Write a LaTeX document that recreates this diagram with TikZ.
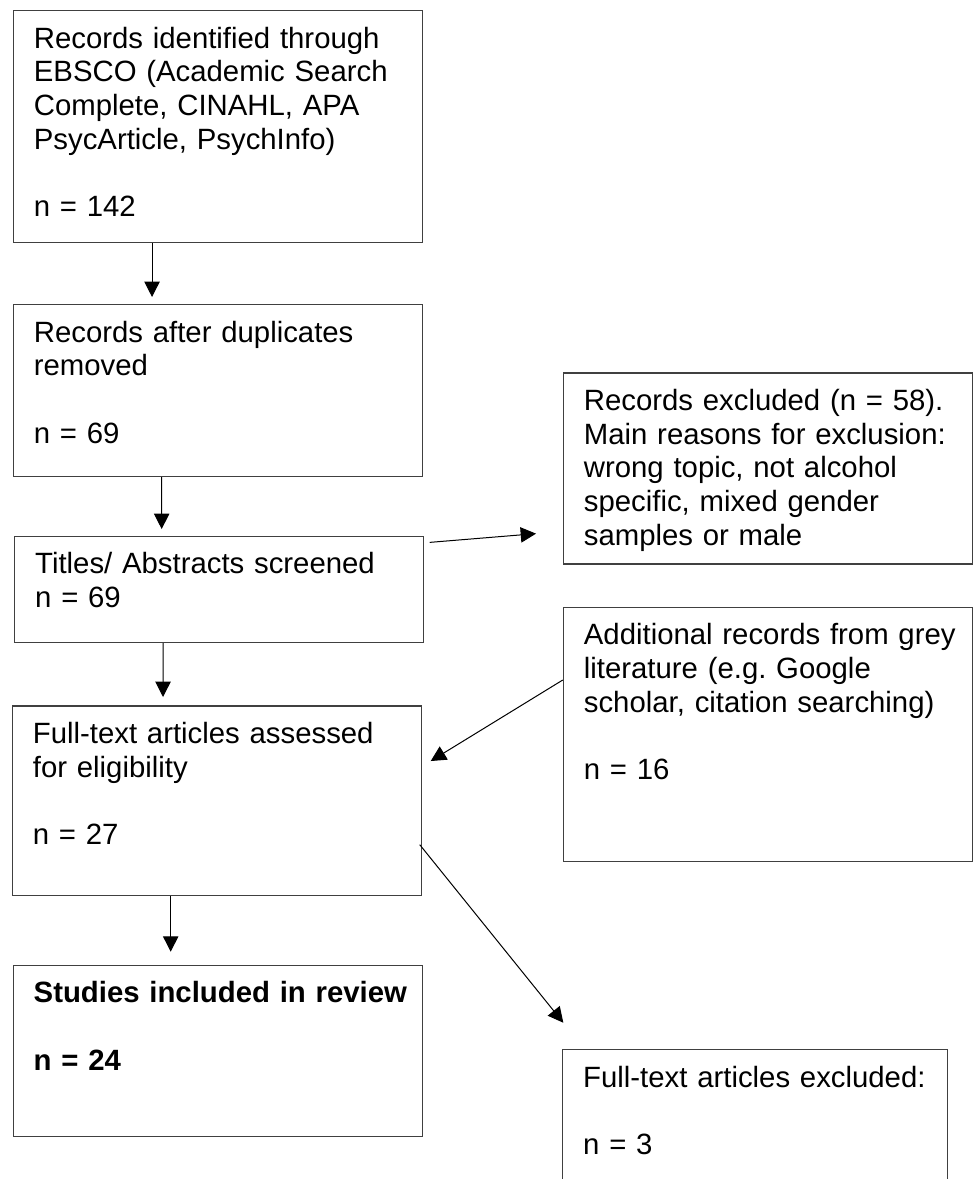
\documentclass[tikz,border=0pt]{standalone}
\usepackage{fontspec}
\setmainfont{Liberation Sans}
\usetikzlibrary{arrows.meta}
\definecolor{edge}{HTML}{404040}
\tikzset{box/.style={draw=edge,line width=1pt,rectangle,anchor=north west,align=left,
  inner xsep=15.4pt,inner ysep=0pt,text width=276pt,text height=28.1pt,
  font=\fontsize{22pt}{25.3pt}\selectfont\frenchspacing},
 deep/.style={text depth=#1},
 narrow/.style={box,text width=258pt},
 arr/.style={-{Triangle[length=11.5pt,width=11.5pt]},line width=.75pt}}

\begin{document}
\begin{tikzpicture}[x=.75pt,y=-.75pt]
\useasboundingbox(0,0)rectangle(979,1179);
\clip(0,0)rectangle(979,1179);
\node[box,deep=145.7pt](b1) at(12.7,10){Records identified through\\EBSCO (Academic Search\\Complete, CINAHL, APA\\PsycArticle, PsychInfo)\\[25.3pt]n = 142};
\node[box,deep=100.7pt](b2) at(12.7,304){Records after duplicates\\removed\\[25.3pt]n = 69};
\node[box,deep=51.4pt](b3) at(14,535.7){Titles/ Abstracts screened\\n = 69};
\node[box,deep=114.2pt](b4) at(11.7,705.3){Full-text articles assessed\\for eligibility\\[25.3pt]n = 27};
\node[box,deep=100.5pt,font=\fontsize{22pt}{25.3pt}\selectfont\bfseries](b5) at(12.5,964.5){\mbox{Studies included in review}\\[25.3pt]n = 24};
\node[box,deep=115.15pt](ex) at(562.7,372.3){Records excluded (n = 58).\\Main reasons for exclusion:\\wrong topic, not alcohol\\specific, mixed gender\\samples or male};
\node[box,deep=162.4pt](gr) at(562.7,606.7){\mbox{Additional records from grey}\\literature (e.g. Google\\scholar, citation searching)\\[25.3pt]n = 16};
\node[narrow,deep=77.65pt](fx) at(562,1049){Full-text articles excluded:\\[25.3pt]n = 3};
\draw[arr,shorten >=5.25pt]([xshift=104.5pt]b1.south west)--([xshift=104.5pt]b2.north west);
\draw[arr,shorten >=5pt]([xshift=111.75pt]b2.south west)--([xshift=110.75pt]b3.north west);
\draw[arr,shorten >=6.2pt]([xshift=111.75pt]b3.south west)--([xshift=113.5pt]b4.north west);
\draw[arr,shorten >=9.6pt]([xshift=119.25pt]b4.south west)--([xshift=118.65pt]b5.north west);
\draw[arr]([xshift=4pt,yshift=-5pt]b3.north east)--([xshift=-20pt,yshift=23.25pt]ex.south west);
\draw[arr]([yshift=-55pt]gr.north west)--([xshift=6.45pt,yshift=-41.8pt]b4.north east);
\draw[arr]([xshift=-1.8pt,yshift=38.8pt]b4.south east)--([xshift=1pt,yshift=19.7pt]fx.north west);
\end{tikzpicture}
\end{document}
